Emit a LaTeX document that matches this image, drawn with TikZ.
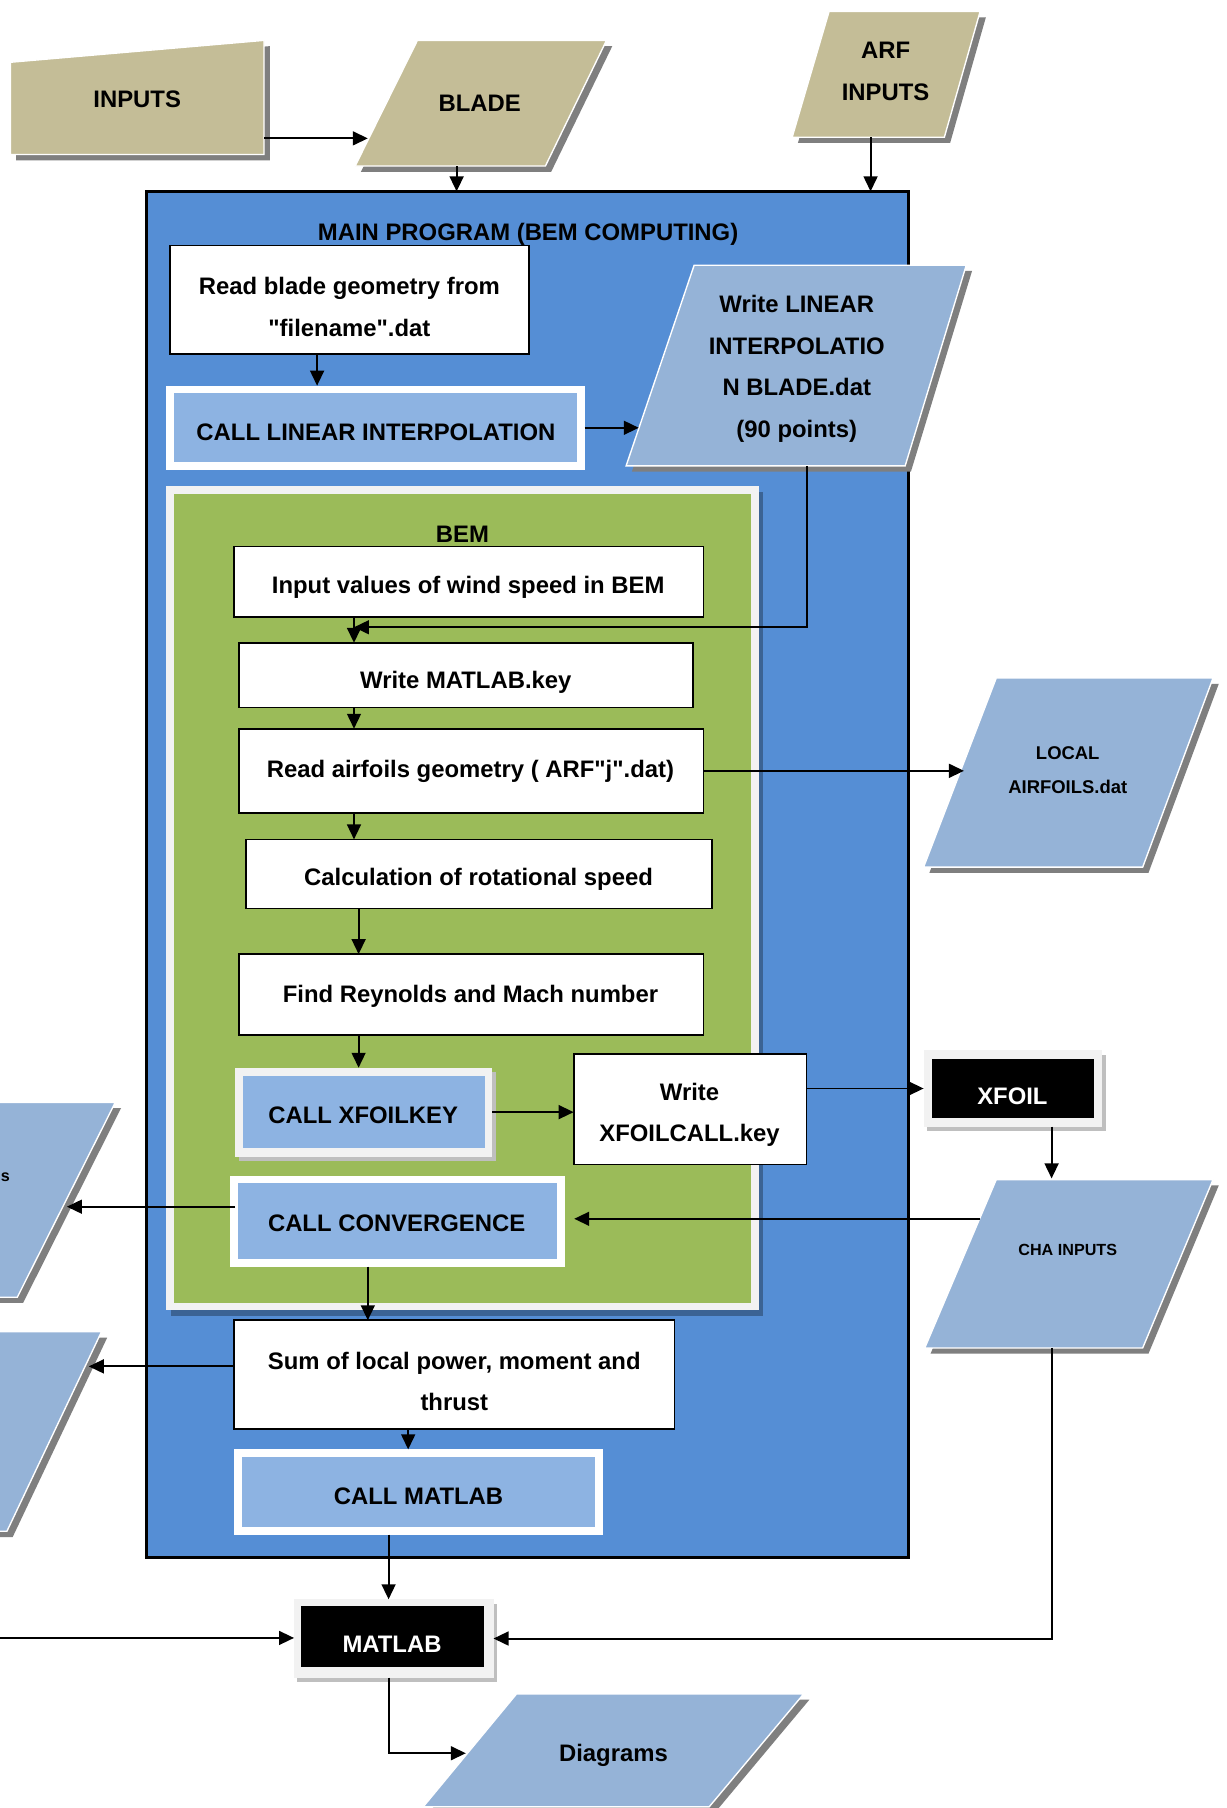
\documentclass[tikz,border=0pt]{standalone}
\usepackage{fontspec}
\setmainfont{Liberation Sans}[Ligatures=TeXOff]
\usetikzlibrary{arrows.meta,shadows}

\definecolor{tanfill}{HTML}{C4BD97}
\definecolor{datablue}{HTML}{95B3D7}
\definecolor{callblue}{HTML}{8DB3E2}
\definecolor{mainblue}{HTML}{558ED5}
\definecolor{bemgreen}{HTML}{9BBB59}
\definecolor{framegray}{HTML}{F2F2F2}
\definecolor{shadowgray}{HTML}{7F7F7F}

\tikzset{
  lbl/.style={font=\bfseries\fontsize{20.7}{36}\selectfont, align=center, inner sep=0pt},
  lblsmall/.style={font=\bfseries\fontsize{16}{30}\selectfont, align=center, inner sep=0pt},
  lbltiny/.style={font=\bfseries\fontsize{14}{28}\selectfont, align=center, inner sep=0pt},
  box/.style={rectangle, inner sep=0pt, outer sep=0pt},
  procbox/.style={box, draw=black, line width=1.5pt, fill=white},
  callframe/.style={box, fill=white},
  callfill/.style={box, fill=callblue},
  darkframe/.style={box, fill=framegray, lightshade},
  tanshape/.style={fill=tanfill, draw=white, line width=1.2pt, slabshade},
  datashape/.style={fill=datablue, draw=white, line width=1.2pt, slabshade},
  slabshade/.style={drop shadow={shadow xshift=5pt, shadow yshift=-5pt, fill=shadowgray, opacity=1}},
  lightshade/.style={drop shadow={shadow xshift=3pt, shadow yshift=-4pt, fill=black!25, opacity=1}},
  bemshade/.style={drop shadow={shadow xshift=4pt, shadow yshift=-5pt, fill=black, opacity=0.3}},
  conn/.style={line width=1.7pt, -{Triangle[length=13pt,width=12pt]}},
}

\begin{document}
\begin{tikzpicture}[x=1pt,y=-1pt]
\clip (0,0) rectangle (1064,1568);
\fill[white] (0,0) rectangle (1064,1568);

% ---------- input files ----------
\filldraw[tanshape] (9,54) -- (229,35) -- (229,134) -- (9,134) -- cycle;
\node[lbl] (inputs) at (119,86) {INPUTS};
\coordinate (inputs-out) at (229,120);

\filldraw[tanshape] (362,35) -- (526,35) -- (473,144) -- (308,144) -- cycle;
\node[lbl] (blade) at (416,90) {BLADE};
\coordinate (blade-in) at (319,120);
\coordinate (blade-out) at (396,144);

\filldraw[tanshape] (719,10) -- (850,10) -- (819,119) -- (687,119) -- cycle;
\node[lbl] (arf) at (768,62) {ARF\\INPUTS};
\coordinate (arf-out) at (755,119);

% ---------- main program ----------
\node[box, draw=black, line width=2.4pt, fill=mainblue,
      minimum width=661pt, minimum height=1185pt] (main) at (457.5,758.5) {};
\node[lbl] (maintitle) at (458,203) {MAIN PROGRAM (BEM COMPUTING)};

\node[procbox, minimum width=311pt, minimum height=94pt] (readgeo) at (303,260) {};
\node[lbl] (readgeo-txt) at (303,266) {Read blade geometry from\\"filename".dat};

\node[callframe, minimum width=363pt, minimum height=73pt] (calllin) at (325.5,371) {};
\node[callfill, minimum width=350pt, minimum height=60pt] (calllin-in) at (325.5,371) {};
\node[lbl] (calllin-txt) at (326,375) {CALL LINEAR INTERPOLATION};

\filldraw[datashape] (602,230) -- (838,230) -- (785,404) -- (543,404) -- cycle;
\node[lbl] (writelin) at (691,320) {Write LINEAR\\INTERPOLATIO\\N BLADE.dat\\(90 points)};
\coordinate (writelin-in) at (554,371);
\coordinate (writelin-out) at (700,404);

% ---------- BEM block ----------
\node[box, fill=framegray, bemshade, minimum width=514pt, minimum height=715pt] (bemframe) at (401,779) {};
\node[box, fill=bemgreen, minimum width=500pt, minimum height=702pt] (bem) at (401,779) {};
\node[lbl] (bemtitle) at (401,463) {BEM};

\node[procbox, minimum width=407pt, minimum height=61pt] (inwind) at (406.5,504.5) {};
\node[lbl] (inwind-txt) at (406,509) {Input values of wind speed in BEM};

\node[procbox, minimum width=394pt, minimum height=56pt] (matkey) at (404,585.5) {};
\node[lbl] (matkey-txt) at (404,592) {Write MATLAB.key};

\node[procbox, minimum width=403pt, minimum height=73pt] (readair) at (408.5,668.5) {};
\node[lbl] (readair-txt) at (408,669) {Read airfoils geometry ( ARF"j".dat)};

\node[procbox, minimum width=404pt, minimum height=60pt] (calcrot) at (415.5,758) {};
\node[lbl] (calcrot-txt) at (415,763) {Calculation of rotational speed};

\node[procbox, minimum width=403pt, minimum height=70pt] (findre) at (408.5,862.5) {};
\node[lbl] (findre-txt) at (408,864) {Find Reynolds and Mach number};

\node[darkframe, minimum width=223pt, minimum height=77pt] (xfkey) at (315.5,964.5) {};
\node[callfill, minimum width=210pt, minimum height=63pt] (xfkey-in) at (315.5,964.5) {};
\node[lbl] (xfkey-txt) at (315,967) {CALL XFOILKEY};

\node[procbox, minimum width=202pt, minimum height=96pt] (writexf) at (598.5,962) {};
\node[lbl] (writexf-txt) at (598,967) {Write\\XFOILCALL.key};

\node[callframe, minimum width=290pt, minimum height=79pt] (conv) at (344.8,1059) {};
\node[callfill, minimum width=277pt, minimum height=66pt] (conv-in) at (344.8,1059) {};
\node[lbl] (conv-txt) at (344,1061) {CALL CONVERGENCE};

% ---------- after the BEM loop ----------
\node[procbox, minimum width=382pt, minimum height=94pt] (sumbox) at (394,1192) {};
\node[lbl] (sumbox-txt) at (394,1198) {Sum of local power, moment and\\thrust};

\node[callframe, minimum width=320pt, minimum height=74pt] (callmat) at (363,1294) {};
\node[callfill, minimum width=306pt, minimum height=61pt] (callmat-in) at (363,1294) {};
\node[lbl] (callmat-txt) at (363,1298) {CALL MATLAB};

% ---------- external programs and files ----------
\filldraw[datashape] (864,588) -- (1052,588) -- (991,752) -- (801,752) -- cycle;
\node[lblsmall] (localair) at (926,668) {LOCAL\\AIRFOILS.dat};
\coordinate (localair-in) at (836,668.5);

\node[darkframe, minimum width=155pt, minimum height=66pt] (xfoil) at (878.5,944) {};
\node[box, fill=black, minimum width=141pt, minimum height=52pt] (xfoil-in) at (878.5,944) {};
\node[lbl, text=white] (xfoil-txt) at (878,951) {XFOIL};

\filldraw[datashape] (864,1023) -- (1052,1023) -- (991,1169) -- (802,1169) -- cycle;
\node[lbltiny] (cha) at (926,1084) {CHA INPUTS};
\coordinate (cha-top) at (912,1022);
\coordinate (cha-left) at (850,1057);
\coordinate (cha-out) at (912,1169);

\filldraw[datashape] (-40,956) -- (100,956) -- (15,1125) -- (-125,1125) -- cycle;
\node[lbltiny, anchor=west] (loads) at (0.5,1021) {s};
\coordinate (loads-in) at (58,1046.5);
\filldraw[datashape] (-40,1155) -- (88,1155) -- (6,1328) -- (-125,1328) -- cycle;
\coordinate (totals-in) at (77,1185);

\node[darkframe, minimum width=173pt, minimum height=68pt] (matlab) at (341.5,1421) {};
\node[box, fill=black, minimum width=159pt, minimum height=53pt] (matlab-in) at (340.5,1419) {};
\node[lbl, text=white] (matlab-txt) at (340,1426) {MATLAB};
\coordinate (matlab-feed) at (-3,1420.5);

\filldraw[datashape] (448,1469) -- (697,1469) -- (615,1567) -- (367,1567) -- cycle;
\node[lbl] (diagrams) at (532,1522) {Diagrams};
\coordinate (diagrams-in) at (404,1520.5);

% ---------- connector columns ----------
\coordinate (col-a) at (275,0);
\coordinate (col-b) at (307,0);
\coordinate (col-c) at (311,0);
\coordinate (col-d) at (319,0);
\coordinate (col-e) at (354,0);
\coordinate (col-f) at (337,0);
\coordinate (col-g) at (912,0);
\coordinate (loop-back) at (307,544);
\coordinate (conv-fb) at (498,1057);
\coordinate (conv-out) at (204,1046.5);
\coordinate (sum-out) at (203,1185);

% ---------- connectors ----------
\draw[conn] (inputs-out) -- (blade-in);
\draw[conn] (blade-out) -- (main.north -| blade-out);
\draw[conn] (arf-out) -- (main.north -| arf-out);
\draw[conn] (readgeo.south -| col-a) -- (calllin.north -| col-a);
\draw[conn] (calllin.east) -- (writelin-in);
\draw[conn] (writelin-out) |- (loop-back);
\draw[conn] (inwind.south -| col-b) -- (matkey.north -| col-b);
\draw[conn] (matkey.south -| col-b) -- (readair.north -| col-b);
\draw[conn] (readair.east) -- (localair-in);
\draw[conn] (readair.south -| col-b) -- (calcrot.north -| col-b);
\draw[conn] (calcrot.south -| col-c) -- (findre.north -| col-c);
\draw[conn] (findre.south -| col-c) -- (xfkey.north -| col-c);
\draw[conn] (xfkey.east) -- (writexf.west |- xfkey.east);
\draw[conn] (writexf.east |- xfoil.west) -- (xfoil.west);
\draw[conn] (xfoil.south -| col-g) -- (cha-top);
\draw[conn] (cha-left) -- (conv-fb);
\draw[conn] (conv-out) -- (loads-in);
\draw[conn] (conv.south -| col-d) -- (sumbox.north -| col-d);
\draw[conn] (sum-out) -- (totals-in);
\draw[conn] (sumbox.south -| col-e) -- (callmat.north -| col-e);
\draw[conn] (callmat.south -| col-f) -- (matlab.north -| col-f);
\draw[conn] (matlab-feed) -- (matlab.west |- matlab-feed);
\draw[conn] (cha-out) |- (matlab.east);
\draw[conn] (matlab.south -| col-f) |- (diagrams-in);
\end{tikzpicture}
\end{document}
